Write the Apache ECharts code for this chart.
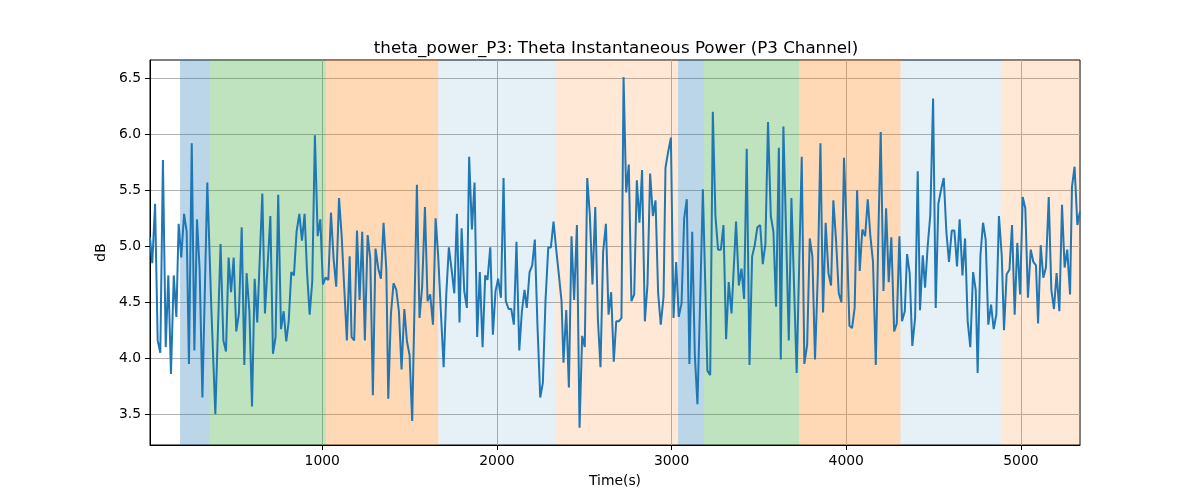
<!DOCTYPE html>
<html>
<head>
<meta charset="utf-8">
<script src="https://cdn.jsdelivr.net/npm/echarts@6/dist/echarts.min.js"></script>
<style>html,body{margin:0;padding:0;background:#fff}#c{width:1200px;height:500px}</style>
</head>
<body>
<div id="c"></div>
<script>
const times = [14,27,43,58,73,88,104,119,134,150,165,178,193,209,224,237,253,268,283,298,314,342,365,388,418,434,449,464,478,493,508,523,539,554,567,583,598,613,628,657,672,703,718,733,748,764,779,794,808,823,838,853,869,884,899,
913,928,943,958,974,989,1004,1019,1035,1050,1065,1080,1096,1111,1126,1141,1157,1168,1183,1199,1214,1229,1244,1260,1275,1290,1305,1321,1336,1351,1367,1378,1393,1408,1424,1439,1454,1470,1485,1500,1515,1542,1557,1572,1588,1603,1618,1634,1649,1664,1679,1695,1710,1725,1740,1756,1771,1786,
1798,1813,1828,1841,1857,1872,1887,1902,1918,1933,1946,1962,1977,1992,2007,2023,2038,2051,2067,2082,2097,2112,2128,2143,2158,2171,2187,2202,2217,2232,2248,2263,2278,2294,2309,2324,2339,2355,2370,2381,2397,2412,2427,2442,2458,2473,2488,2503,2517,2532,2547,2563,2578,2593,2608,2624,2639,2654,2669,
2683,2698,2713,2725,2740,2755,2770,2786,2801,2816,2831,2847,2862,2877,2893,2908,2923,2938,2954,2965,2980,2996,3011,3026,3041,3057,3072,3087,3102,3118,3133,3148,3163,3179,3205,3221,3236,3251,3266,3282,3297,3312,3327,3343,3369,3385,3400,3415,3430,3446,3461,3476,3491,3507,3522,3537,3552,
3568,3583,3598,3614,3625,3640,3671,3686,3716,3745,3760,3776,3791,3806,3821,3837,3852,3867,3882,3898,3913,3926,3942,3957,3972,3987,4003,4018,4033,4048,4062,4077,4092,4108,4123,4138,4153,4169,4184,4197,4213,4228,4243,4258,4274,4289,4304,4319,4335,4348,4363,4378,4394,4409,4422,4438,
4451,4466,4481,4497,4512,4527,4542,4558,4573,4588,4604,4619,4634,4649,4665,4680,4695,4710,4726,4741,4752,4768,4783,4798,4813,4829,4844,4859,4874,4890,4903,4918,4934,4949,4964,4979,4995,5010,5025,5040,5056,5071,5086,5098,5113,5128,5143,5159,5174,5189,5204,5220,5235,5250,5265,5281,5292,5307,5323,5338];
const power = [5.08,4.85,5.38,4.16,4.05,5.77,4.10,4.74,3.86,4.74,4.37,5.20,4.90,5.29,5.13,3.95,5.92,4.07,5.24,4.80,3.65,5.57,4.45,3.50,5.02,4.16,4.06,4.90,4.59,4.90,4.24,4.40,5.17,3.94,4.76,4.42,3.57,4.71,4.32,5.47,4.40,5.27,4.04,4.19,5.46,4.26,4.42,4.15,4.33,4.77,4.74,5.13,5.29,5.05,5.29,
4.77,4.39,4.69,5.99,5.09,5.24,4.66,4.72,4.70,5.30,4.89,4.64,5.43,5.10,4.63,4.16,4.91,4.19,4.16,5.14,4.52,5.13,4.16,5.10,4.89,3.67,4.98,4.80,4.71,5.21,4.79,3.64,4.39,4.67,4.61,4.42,3.90,4.44,4.15,4.03,3.44,5.55,4.36,4.64,5.35,4.51,4.57,4.30,5.25,4.91,4.42,3.92,4.57,4.99,4.80,4.58,5.29,4.32,
5.16,4.60,4.45,5.80,5.15,5.57,4.19,4.77,4.10,4.74,4.70,4.99,4.21,4.60,4.71,4.54,5.61,4.51,4.44,4.44,4.30,5.04,4.07,4.42,4.61,4.45,4.77,4.83,5.06,4.30,3.65,3.78,4.51,4.99,4.99,5.22,4.98,4.74,4.51,3.96,4.43,3.74,5.09,4.52,5.19,3.38,4.20,4.10,5.61,5.28,4.66,5.35,4.35,3.92,4.95,5.20,4.39,4.59,3.97,
4.33,4.33,4.36,6.51,5.48,5.73,4.51,4.57,5.59,5.21,5.68,4.33,4.66,5.65,5.27,5.41,4.58,4.30,4.55,5.70,5.84,5.97,4.36,4.86,4.37,4.49,5.25,5.42,3.95,5.13,4.03,3.59,4.49,5.51,3.89,3.85,6.20,5.27,4.97,4.97,5.19,4.17,4.68,4.40,5.22,4.65,4.80,4.53,5.87,3.94,4.91,5.01,5.17,5.19,4.84,5.02,6.11,
5.27,5.13,4.46,5.88,3.99,6.07,4.16,5.43,3.87,5.80,3.95,4.12,5.07,4.91,3.99,4.74,5.92,4.41,5.21,4.76,4.65,5.41,5.04,4.58,4.50,5.79,5.10,4.29,4.27,4.45,5.50,4.78,5.15,5.09,5.42,5.09,4.86,3.94,5.13,6.02,4.60,5.34,4.68,5.08,4.24,4.31,5.09,4.33,4.42,4.93,4.76,4.11,4.36,5.67,4.43,4.92,
4.63,5.00,5.28,6.32,4.45,5.38,5.50,5.61,5.13,4.86,5.14,5.14,4.82,5.24,4.74,5.07,4.33,4.10,4.77,4.61,3.87,4.92,5.21,5.06,4.30,4.48,4.26,4.39,5.27,4.92,4.25,4.75,4.79,5.19,4.39,5.03,4.57,5.44,5.34,4.54,4.97,4.86,4.83,4.31,5.01,4.72,4.81,5.44,4.61,4.44,4.76,4.42,5.37,4.81,4.97,4.57,5.53,5.71,5.19,5.31];
const bandStart = [186, 357, 1021, 1664, 2339, 3037, 3186, 3730, 4310, 4891];
const bandEnd   = [357, 1021, 1664, 2339, 3037, 3186, 3730, 4310, 4891, 5338];
const bandKind  = ['blue','green','orange','lblue','lorange','blue','green','orange','lblue','lorange'];
const xTicks = [1000, 2000, 3000, 4000, 5000];
const yTicks = [3.5, 4.0, 4.5, 5.0, 5.5, 6.0, 6.5];

const bandColor = {
  blue: 'rgba(31,119,180,0.3)',
  green: 'rgba(44,160,44,0.3)',
  orange: 'rgba(255,127,14,0.3)',
  lblue: 'rgba(31,119,180,0.11)',
  lorange: 'rgba(255,127,14,0.17)'
};

const chart = echarts.init(document.getElementById('c'), null, {renderer: 'canvas'});
const font = 'DejaVu Sans';
const areas = bandStart.map((s, i) => [
  {xAxis: s, itemStyle: {color: bandColor[bandKind[i]]}},
  {xAxis: bandEnd[i]}
]);

chart.setOption({
  animation: false,
  backgroundColor: '#fff',
  title: {
    text: 'theta_power_P3: Theta Instantaneous Power (P3 Channel)',
    left: 611, top: 35, textAlign: 'center',
    textStyle: {fontFamily: font, fontSize: 16.7, fontWeight: 'normal', color: '#000'}
  },
  grid: {left: 150, right: 120, top: 60, bottom: 55, show: true, borderColor: '#000', borderWidth: 1, backgroundColor: 'transparent'},
  xAxis: {
    type: 'value', min: 14, max: 5338,
    name: 'Time(s)', nameLocation: 'middle', nameGap: 29,
    nameTextStyle: {fontFamily: font, fontSize: 13.9, color: '#000', verticalAlign: 'top'},
    axisLine: {show: true, lineStyle: {color: '#000', width: 1}},
    axisTick: {show: true, length: 5, lineStyle: {color: '#000'}, customValues: xTicks},
    axisLabel: {fontFamily: font, fontSize: 13.9, color: '#000', margin: 9, customValues: xTicks,
      formatter: v => String(Math.round(v))},
    splitLine: {show: true, lineStyle: {color: '#b0b0b0', width: 1}}
  },
  yAxis: {
    type: 'value', min: 3.226, max: 6.663,
    name: 'dB', nameLocation: 'middle', nameGap: 37,
    nameTextStyle: {fontFamily: font, fontSize: 13.9, color: '#000'},
    axisLine: {show: true, lineStyle: {color: '#000', width: 1}},
    axisTick: {show: true, length: 5, lineStyle: {color: '#000'}, customValues: yTicks},
    axisLabel: {fontFamily: font, fontSize: 13.9, color: '#000', margin: 9, customValues: yTicks,
      formatter: v => v.toFixed(1)},
    splitLine: {show: true, lineStyle: {color: '#b0b0b0', width: 1}}
  },
  series: [
    {
      type: 'line', data: [], z: 1, silent: true,
      markArea: {silent: true, data: areas}
    },
    {
      type: 'line', z: 3,
      data: times.map((t, i) => [t, power[i]]),
      showSymbol: false, symbol: 'none',
      lineStyle: {color: '#1f77b4', width: 2},
      itemStyle: {color: '#1f77b4'}
    }
  ]
});
</script>
</body>
</html>
